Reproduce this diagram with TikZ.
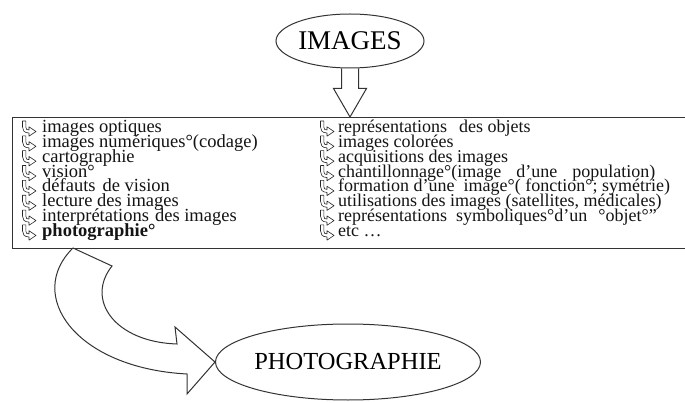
\documentclass[tikz,border=0pt]{standalone}
\usepackage{fontspec}
\setmainfont{Liberation Serif}
\usetikzlibrary{shapes.geometric,calc}
\tikzset{
  edge/.style={draw=black!80, line width=1pt},
  oval/.style={ellipse, draw=black!80, line width=1pt, inner sep=0pt},
  itemL/.style={anchor=base west, inner sep=0pt, text height=9.5pt, text depth=3.5pt, font=\fontsize{18.5}{18}\selectfont, text=black!92},
  itemR/.style={anchor=base west, inner sep=0pt, text height=9.5pt, text depth=3.5pt, font=\fontsize{18}{18}\selectfont, text=black!92},
  pics/ribbon/.style={code={\draw[black!85, line width=0.6pt, line join=round]
    (-6.5,-7) -- (-3.2,-7) -- (-3.2,-1) .. controls (-3.2,1.5) and (-2,2) .. (0,2) -- (0,-1.2) -- (7,3.5) -- (0,8.2) -- (0,5)
    .. controls (-5,5) and (-6.5,2) .. (-6.5,-1) -- cycle;}}
}
\newcommand{\lrow}[3]{\pic at (29,{128+14.85*(#1-1)}) {ribbon}; \node[itemL] (#2) at (42,{132.5+14.85*(#1-1)}) {#3};}
\newcommand{\rrow}[3]{\pic at (327,{128+14.85*(#1-1)}) {ribbon}; \node[itemR] (#2) at (338,{132.5+14.85*(#1-1)}) {#3};}
\begin{document}
\begin{tikzpicture}[x=1pt,y=-1pt]
\clip (0,0) rectangle (685,403);
\fill[white] (0,0) rectangle (685,403);
% top ellipse
\node[oval, minimum width=148pt, minimum height=54pt, font=\fontsize{27}{27}\selectfont] (images) at (350,41) {IMAGES};
% box (its right side runs past the picture's edge)
\node[draw=black!80, line width=1.2pt, anchor=north west, minimum width=700pt, minimum height=131pt, inner sep=0pt] (box) at (12,117) {};
% hollow arrow
\coordinate (s0) at (images.south);
\draw[edge, line join=miter] ($(s0)+(-8.5,0)$) -- ($(s0)+(-8.5,20)$) -- ($(s0)+(-16.5,20)$) -- (box.north -| s0) -- ($(s0)+(16.5,20)$) -- ($(s0)+(8.5,20)$) -- ($(s0)+(8.5,0)$);
% left column
\lrow{1}{l1}{images optiques}
\lrow{2}{l2}{images numériques°(codage)}
\lrow{3}{l3}{cartographie}
\lrow{4}{l4}{vision°}
\lrow{5}{l5}{défauts\hspace{7pt}de vision}
\lrow{6}{l6}{lecture des images}
\lrow{7}{l7}{interprétations\hspace{6pt}des images}
\lrow{8}{l8}{\textbf{photographie°}}
% right column
\rrow{1}{r1}{représentations\hspace{12pt}des objets}
\rrow{2}{r2}{images colorées}
\rrow{3}{r3}{acquisitions des images}
\rrow{4}{r4}{chantillonnage°(image\hspace{15pt}d'une\hspace{15pt}population)}
\rrow{5}{r5}{formation d'une\hspace{9pt}image°( fonction°; symétrie)}
\rrow{6}{r6}{utilisations des images (satellites, médicales)}
\rrow{7}{r7}{représentations\hspace{9pt}symboliques°d'un\hspace{11pt}°objet°"}
\rrow{8}{r8}{etc \dots}
% bottom ellipse
\node[oval, minimum width=222pt, minimum height=76pt, font=\fontsize{24.5}{24.5}\selectfont] (photo) at (348,362) {PHOTOGRAPHIE};
% curved hollow arrow from the box to PHOTOGRAPHIE
\coordinate (a0) at (73,248);
\draw[edge, line join=miter] (a0) .. controls (25,295) and (75,368) .. (187,374) -- (187,394) -- (photo.west) -- (175,327) -- (177,344)
  .. controls (115,342) and (85,300) .. (112,266) -- cycle;
\end{tikzpicture}
\end{document}
